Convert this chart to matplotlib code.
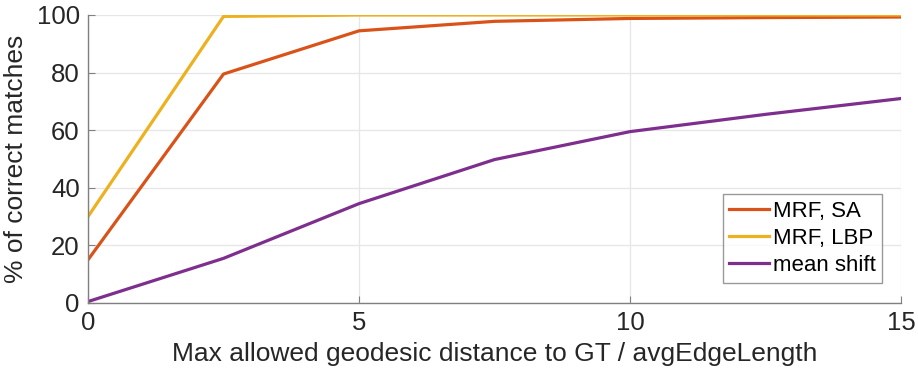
import matplotlib
matplotlib.use("Agg")
import matplotlib.pyplot as plt

# distance thresholds (in avgEdgeLength units)
dist = [0, 2.5, 5, 7.5, 10, 12.5, 15]

mrf_sa = [15, 79.5, 94.5, 97.8, 98.8, 99.1, 99.3]
mrf_lbp = [30, 99.5, 100, 100, 100, 100, 100]
mean_shift = [0.5, 15.5, 34.5, 49.8, 59.5, 65.5, 71]

plt.rcParams['font.family'] = ['Liberation Sans', 'DejaVu Sans']
text_col = '#262626'

fig = plt.figure(figsize=(9.18, 3.76), dpi=100)
ax = fig.add_axes([88 / 918, 1 - 303 / 376, 813 / 918, 288 / 376])

ax.plot(dist, mrf_sa, color='#D95319', lw=2.3, label='MRF, SA')
ax.plot(dist, mrf_lbp, color='#EDB120', lw=2.3, label='MRF, LBP')
ax.plot(dist, mean_shift, color='#7E2F8E', lw=2.3, label='mean shift')

ax.set_xlim(0, 15)
ax.set_ylim(0, 100)
ax.set_xticks([0, 5, 10, 15])
ax.set_yticks([0, 20, 40, 60, 80, 100])
ax.grid(True, color='#e6e6e6', lw=0.9)
ax.set_axisbelow(True)

for s in ['top', 'right']:
    ax.spines[s].set_visible(False)
for s in ['left', 'bottom']:
    ax.spines[s].set_color('#808080')
    ax.spines[s].set_linewidth(1.0)

ax.tick_params(direction='in', length=5, color='#808080', labelsize=18.5,
               labelcolor=text_col, pad=6)
ax.set_xlabel('Max allowed geodesic distance to GT / avgEdgeLength',
              fontsize=19, color=text_col, labelpad=5)
ax.set_ylabel('% of correct matches', fontsize=19, color=text_col, labelpad=6)

leg = ax.legend(loc='lower right', bbox_to_anchor=(0.977, 0.07), fontsize=16,
                frameon=True, fancybox=False, handlelength=1.8,
                handletextpad=0.15, borderpad=0.3, labelspacing=0.28,
                borderaxespad=0)
leg.get_frame().set_edgecolor('#808080')
leg.get_frame().set_linewidth(1.0)
for t in leg.get_texts():
    t.set_color('black')

fig.savefig('out.png', dpi=100)
